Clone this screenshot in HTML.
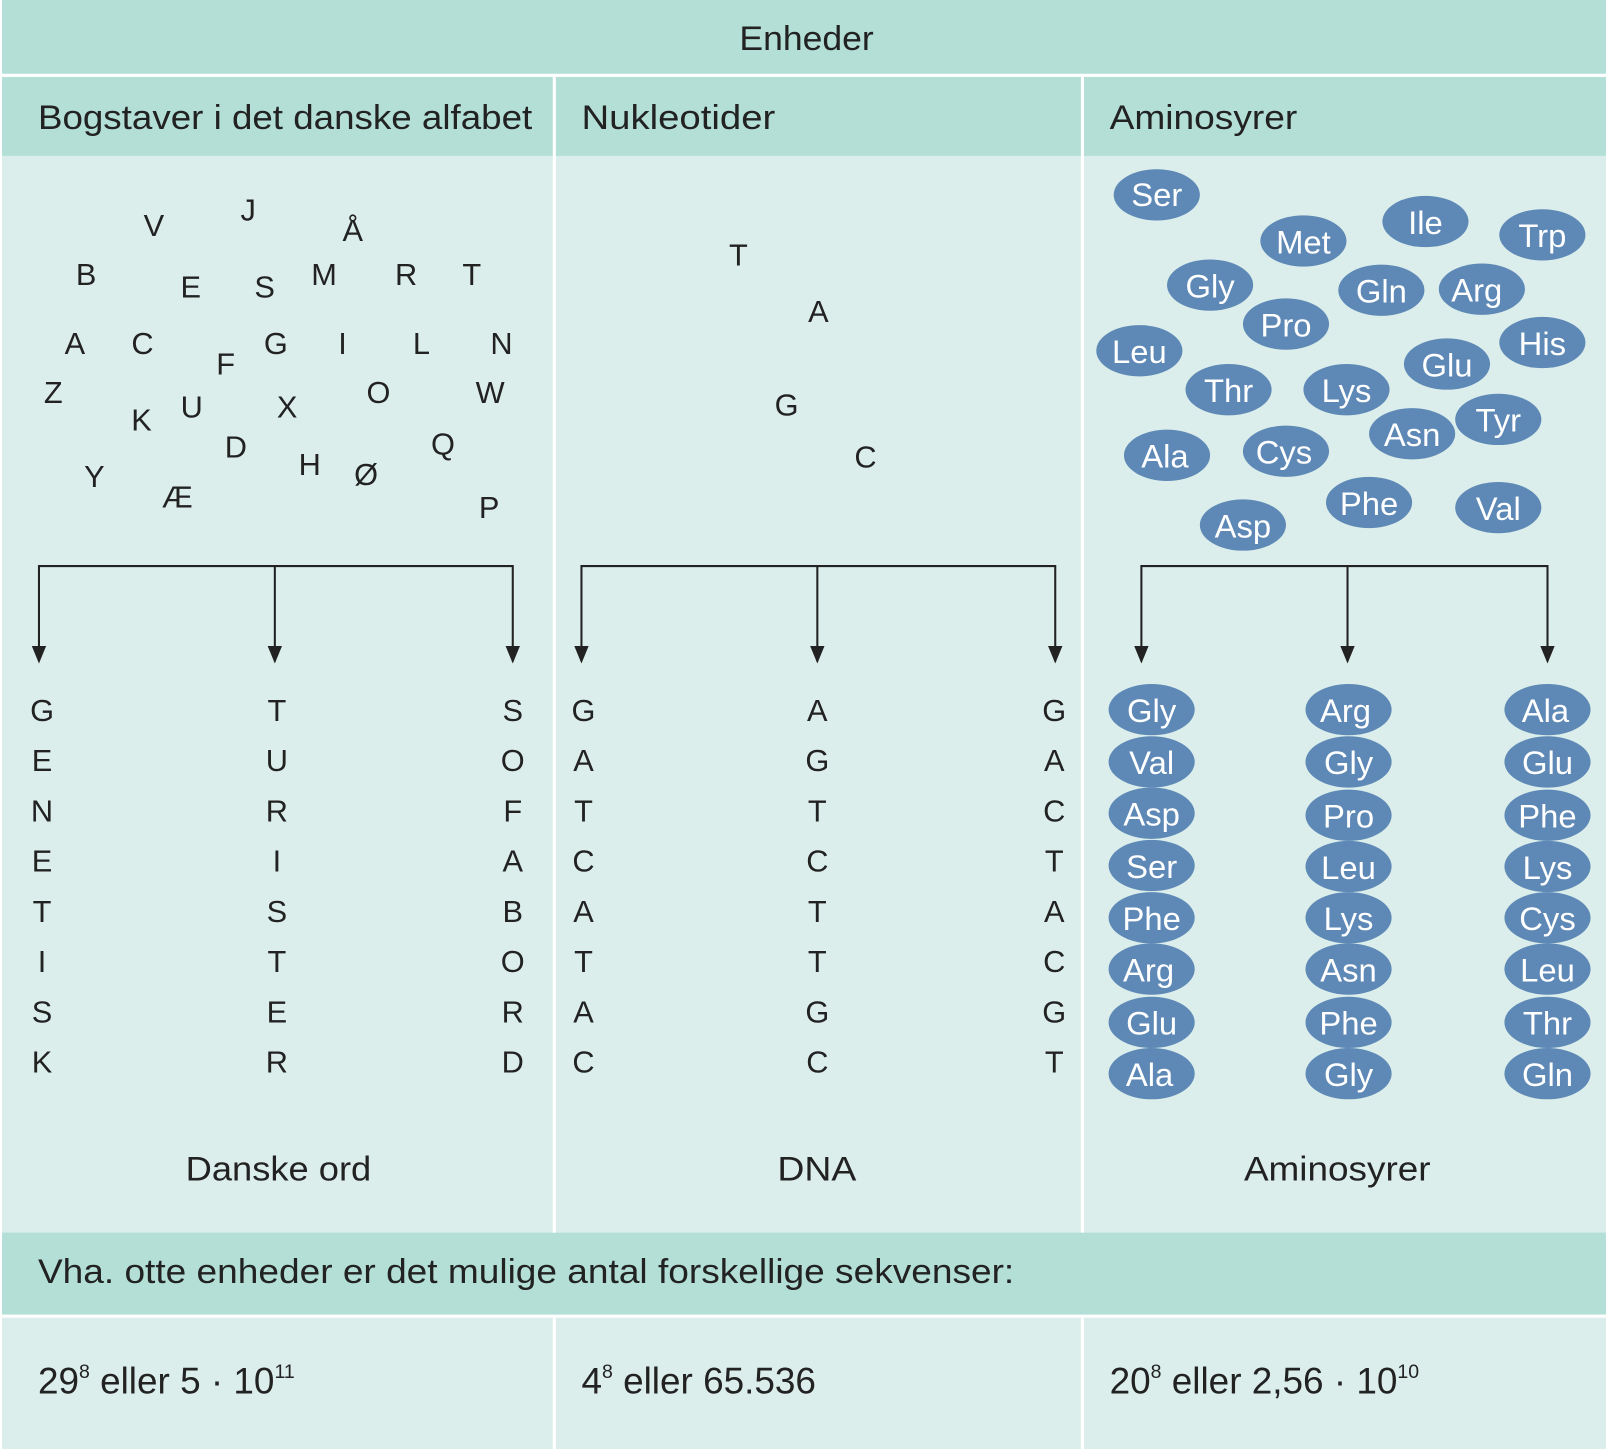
<!DOCTYPE html>
<html><head><style>html,body{margin:0;padding:0;background:#fff}</style></head><body>
<svg width="1608" height="1449" viewBox="0 0 1568 1413" preserveAspectRatio="none" xmlns="http://www.w3.org/2000/svg" font-family="Liberation Sans, sans-serif">
<rect x="0" y="0" width="1568" height="1413" fill="#dbeeeb"/>
<rect x="0" y="0" width="1568" height="72" fill="#b3dfd7"/>
<rect x="0" y="75" width="1568" height="77" fill="#b3dfd7"/>
<rect x="0" y="1202" width="1568" height="80" fill="#b3dfd7"/>
<rect x="0" y="72" width="1568" height="3" fill="#fff"/>
<rect x="0" y="1282" width="1568" height="3" fill="#fff"/>
<rect x="539" y="75" width="3" height="1127" fill="#fff"/>
<rect x="1054" y="75" width="3" height="1127" fill="#fff"/>
<rect x="539" y="1285" width="3" height="128" fill="#fff"/>
<rect x="1054" y="1285" width="3" height="128" fill="#fff"/>
<rect x="0" y="0" width="2" height="1413" fill="#fff"/>
<rect x="1566" y="0" width="2" height="1413" fill="#fff"/>
<g fill="#222" font-size="33">
<text x="721" y="49" textLength="131" lengthAdjust="spacingAndGlyphs">Enheder</text>
<text x="37" y="126" textLength="482" lengthAdjust="spacingAndGlyphs">Bogstaver i det danske alfabet</text>
<text x="567" y="126" textLength="189" lengthAdjust="spacingAndGlyphs">Nukleotider</text>
<text x="1082" y="126" textLength="183" lengthAdjust="spacingAndGlyphs">Aminosyrer</text>
<text x="181" y="1151" textLength="181" lengthAdjust="spacingAndGlyphs">Danske ord</text>
<text x="758" y="1151" textLength="77" lengthAdjust="spacingAndGlyphs">DNA</text>
<text x="1213" y="1151" textLength="182" lengthAdjust="spacingAndGlyphs">Aminosyrer</text>
<text x="37" y="1251" textLength="952" lengthAdjust="spacingAndGlyphs">Vha. otte enheder er det mulige antal forskellige sekvenser:</text>
</g>
<g fill="#222" font-size="36">
<text x="37" y="1359">29<tspan font-size="19" dy="-15">8</tspan><tspan dy="15"> eller 5 · 10</tspan><tspan font-size="19" dy="-15">11</tspan></text>
<text x="567" y="1359">4<tspan font-size="19" dy="-15">8</tspan><tspan dy="15"> eller 65.536</tspan></text>
<text x="1082" y="1359">20<tspan font-size="19" dy="-15">8</tspan><tspan dy="15"> eller 2,56 · 10</tspan><tspan font-size="19" dy="-15">10</tspan></text>
</g>
<g fill="#222" font-size="30" text-anchor="middle">
<text x="150" y="230">V</text><text x="242" y="215">J</text><text x="344" y="235">Å</text>
<text x="84" y="278">B</text><text x="186" y="290">E</text><text x="258" y="290">S</text><text x="316" y="278">M</text><text x="396" y="278">R</text><text x="460" y="278">T</text>
<text x="73" y="345">A</text><text x="139" y="345">C</text><text x="220" y="365">F</text><text x="269" y="345">G</text><text x="334" y="345">I</text><text x="411" y="345">L</text><text x="489" y="345">N</text>
<text x="52" y="393">Z</text><text x="187" y="407">U</text><text x="280" y="407">X</text><text x="369" y="393">O</text><text x="478" y="393">W</text>
<text x="138" y="420">K</text><text x="230" y="446">D</text><text x="432" y="443">Q</text>
<text x="92" y="475">Y</text><text x="302" y="463">H</text><text x="357" y="473">Ø</text><text x="173" y="495">Æ</text><text x="477" y="505">P</text>
<text x="720" y="259">T</text><text x="798" y="314">A</text><text x="767" y="405">G</text><text x="844" y="456">C</text>
</g>
<g stroke="#222" stroke-width="2" fill="none">
<path d="M38 645V552H500V645M268 552V645"/>
<path d="M567 645V552H1029V645M797 552V645"/>
<path d="M1113 645V552H1509V645M1314 552V645"/>
</g>
<g fill="#222">
<path d="M31 630L38 647L45 630Z"/><path d="M261 630L268 647L275 630Z"/><path d="M493 630L500 647L507 630Z"/>
<path d="M560 630L567 647L574 630Z"/><path d="M790 630L797 647L804 630Z"/><path d="M1022 630L1029 647L1036 630Z"/>
<path d="M1106 630L1113 647L1120 630Z"/><path d="M1307 630L1314 647L1321 630Z"/><path d="M1502 630L1509 647L1516 630Z"/>
</g>
<g fill="#222" font-size="30" text-anchor="middle">
<text x="41" y="703">G</text><text x="41" y="752">E</text><text x="41" y="801">N</text><text x="41" y="850">E</text><text x="41" y="899">T</text><text x="41" y="948">I</text><text x="41" y="997">S</text><text x="41" y="1046">K</text>
<text x="270" y="703">T</text><text x="270" y="752">U</text><text x="270" y="801">R</text><text x="270" y="850">I</text><text x="270" y="899">S</text><text x="270" y="948">T</text><text x="270" y="997">E</text><text x="270" y="1046">R</text>
<text x="500" y="703">S</text><text x="500" y="752">O</text><text x="500" y="801">F</text><text x="500" y="850">A</text><text x="500" y="899">B</text><text x="500" y="948">O</text><text x="500" y="997">R</text><text x="500" y="1046">D</text>
<text x="569" y="703">G</text><text x="569" y="752">A</text><text x="569" y="801">T</text><text x="569" y="850">C</text><text x="569" y="899">A</text><text x="569" y="948">T</text><text x="569" y="997">A</text><text x="569" y="1046">C</text>
<text x="797" y="703">A</text><text x="797" y="752">G</text><text x="797" y="801">T</text><text x="797" y="850">C</text><text x="797" y="899">T</text><text x="797" y="948">T</text><text x="797" y="997">G</text><text x="797" y="1046">C</text>
<text x="1028" y="703">G</text><text x="1028" y="752">A</text><text x="1028" y="801">C</text><text x="1028" y="850">T</text><text x="1028" y="899">A</text><text x="1028" y="948">C</text><text x="1028" y="997">G</text><text x="1028" y="1046">T</text>
</g>
<g fill="#5e89b6">
<ellipse cx="1128" cy="190" rx="42" ry="25"/><ellipse cx="1271" cy="235" rx="42" ry="25"/><ellipse cx="1390" cy="216" rx="42" ry="25"/><ellipse cx="1504" cy="229" rx="42" ry="25"/>
<ellipse cx="1180" cy="278" rx="42" ry="25"/><ellipse cx="1347" cy="283" rx="42" ry="25"/><ellipse cx="1445" cy="282" rx="42" ry="25"/><ellipse cx="1254" cy="316" rx="42" ry="25"/>
<ellipse cx="1111" cy="342" rx="42" ry="25"/><ellipse cx="1504" cy="334" rx="42" ry="25"/><ellipse cx="1411" cy="355" rx="42" ry="25"/><ellipse cx="1198" cy="380" rx="42" ry="25"/>
<ellipse cx="1313" cy="380" rx="42" ry="25"/><ellipse cx="1461" cy="409" rx="42" ry="25"/><ellipse cx="1377" cy="423" rx="42" ry="25"/><ellipse cx="1138" cy="444" rx="42" ry="25"/>
<ellipse cx="1254" cy="440" rx="42" ry="25"/><ellipse cx="1335" cy="490" rx="42" ry="25"/><ellipse cx="1461" cy="495" rx="42" ry="25"/><ellipse cx="1212" cy="512" rx="42" ry="25"/>
</g>
<g fill="#fff" font-size="32" text-anchor="middle">
<text x="1128" y="201">Ser</text><text x="1271" y="247">Met</text><text x="1390" y="228">Ile</text><text x="1504" y="241">Trp</text>
<text x="1180" y="290">Gly</text><text x="1347" y="295">Gln</text><text x="1440" y="294">Arg</text><text x="1254" y="328">Pro</text>
<text x="1111" y="354">Leu</text><text x="1504" y="346">His</text><text x="1411" y="367">Glu</text><text x="1198" y="392">Thr</text>
<text x="1313" y="392">Lys</text><text x="1461" y="421">Tyr</text><text x="1377" y="435">Asn</text><text x="1136" y="456">Ala</text>
<text x="1252" y="452">Cys</text><text x="1335" y="502">Phe</text><text x="1461" y="507">Val</text><text x="1212" y="524">Asp</text>
</g>
<g fill="#5e89b6">
<ellipse cx="1123" cy="692" rx="42" ry="25"/><ellipse cx="1123" cy="743" rx="42" ry="25"/><ellipse cx="1123" cy="793" rx="42" ry="25"/><ellipse cx="1123" cy="844" rx="42" ry="25"/><ellipse cx="1123" cy="895" rx="42" ry="25"/><ellipse cx="1123" cy="945" rx="42" ry="25"/><ellipse cx="1123" cy="997" rx="42" ry="25"/><ellipse cx="1123" cy="1047" rx="42" ry="25"/>
<ellipse cx="1315" cy="692" rx="42" ry="25"/><ellipse cx="1315" cy="743" rx="42" ry="25"/><ellipse cx="1315" cy="795" rx="42" ry="25"/><ellipse cx="1315" cy="845" rx="42" ry="25"/><ellipse cx="1315" cy="895" rx="42" ry="25"/><ellipse cx="1315" cy="945" rx="42" ry="25"/><ellipse cx="1315" cy="997" rx="42" ry="25"/><ellipse cx="1315" cy="1047" rx="42" ry="25"/>
<ellipse cx="1509" cy="692" rx="42" ry="25"/><ellipse cx="1509" cy="743" rx="42" ry="25"/><ellipse cx="1509" cy="795" rx="42" ry="25"/><ellipse cx="1509" cy="845" rx="42" ry="25"/><ellipse cx="1509" cy="895" rx="42" ry="25"/><ellipse cx="1509" cy="945" rx="42" ry="25"/><ellipse cx="1509" cy="997" rx="42" ry="25"/><ellipse cx="1509" cy="1047" rx="42" ry="25"/>
</g>
<g fill="#fff" font-size="32" text-anchor="middle">
<text x="1123" y="704">Gly</text><text x="1123" y="755">Val</text><text x="1123" y="805">Asp</text><text x="1123" y="856">Ser</text><text x="1123" y="907">Phe</text><text x="1120" y="957">Arg</text><text x="1123" y="1009">Glu</text><text x="1121" y="1059">Ala</text>
<text x="1312" y="704">Arg</text><text x="1315" y="755">Gly</text><text x="1315" y="807">Pro</text><text x="1315" y="857">Leu</text><text x="1315" y="907">Lys</text><text x="1315" y="957">Asn</text><text x="1315" y="1009">Phe</text><text x="1315" y="1059">Gly</text>
<text x="1507" y="704">Ala</text><text x="1509" y="755">Glu</text><text x="1509" y="807">Phe</text><text x="1509" y="857">Lys</text><text x="1509" y="907">Cys</text><text x="1509" y="957">Leu</text><text x="1509" y="1009">Thr</text><text x="1509" y="1059">Gln</text>
</g>
</svg>
</body></html>
